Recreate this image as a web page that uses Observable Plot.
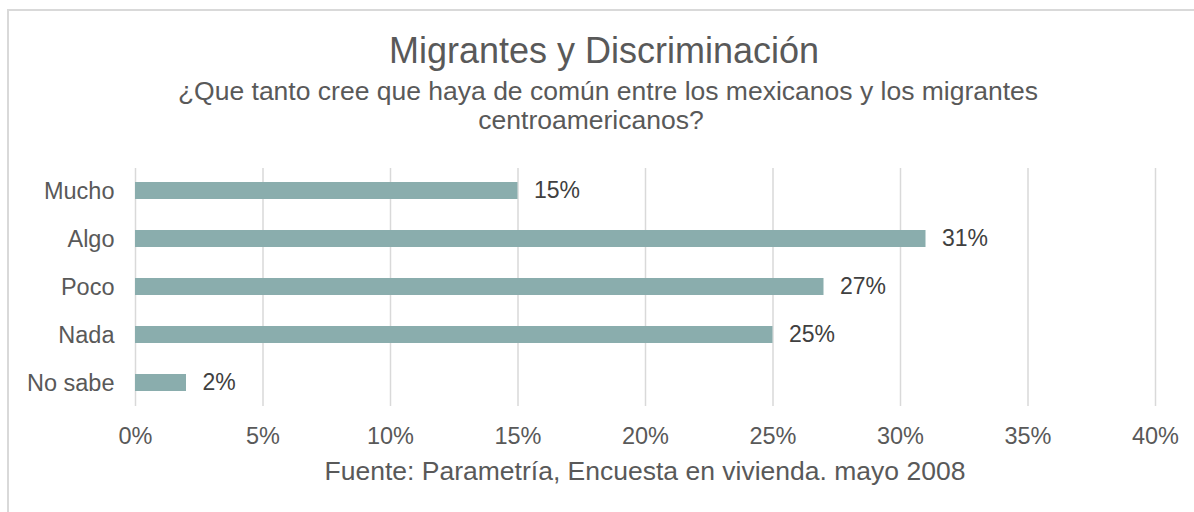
<!DOCTYPE html>
<html>
<head>
<meta charset="utf-8">
<script src="https://cdn.jsdelivr.net/npm/d3@7"></script>
<script src="https://cdn.jsdelivr.net/npm/@observablehq/plot@0.6"></script>
<style>
  html, body { margin: 0; padding: 0; background: #fff; overflow: hidden; }
  body { width: 1194px; height: 512px; position: relative; font-family: "Liberation Sans", Arial, sans-serif; color: #595959; }
  #frame { position: absolute; left: 7px; top: 9px; width: 1200px; height: 520px; border: 2px solid #d9d9d9; box-sizing: border-box; }
  #title { position: absolute; left: 0; top: 31px; width: 1208px; text-align: center; font-size: 36px; line-height: 40px; white-space: nowrap; }
  #subtitle { position: absolute; left: 0; top: 77px; width: 1216px; text-align: center; font-size: 26.5px; line-height: 29px; white-space: nowrap; }
  #subtitle .l2 { display: block; padding-right: 34px; }
  #chart { position: absolute; left: 0; top: 139px; }
  #caption { position: absolute; left: 135px; top: 456px; width: 1020px; text-align: center; font-size: 26.5px; line-height: 30px; white-space: nowrap; }
</style>
</head>
<body>
<div id="frame"></div>
<div id="title">Migrantes y Discriminación</div>
<div id="subtitle"><span class="l1">¿Que tanto cree que haya de común entre los mexicanos y los migrantes</span><span class="l2">centroamericanos?</span></div>
<div id="chart"></div>
<div id="caption">Fuente: Parametría, Encuesta en vivienda. mayo 2008</div>
<script>
const categories = ["Mucho", "Algo", "Poco", "Nada", "No sabe"];
const values = [15, 31, 27, 25, 2];
const xTicks = [0, 5, 10, 15, 20, 25, 30, 35, 40];

const data = categories.map((c, i) => ({category: c, value: values[i]}));
const fmt = d => d + "%";

const chart = Plot.plot({
  width: 1194,
  height: 330,
  marginLeft: 135,
  marginRight: 39,
  marginTop: 29,
  marginBottom: 63,
  style: {fontFamily: '"Liberation Sans", Arial, sans-serif', background: "transparent", overflow: "visible"},
  x: {domain: [0, 40]},
  y: {domain: categories, paddingInner: 0.643, paddingOuter: 0.3},
  marks: [
    Plot.gridX(xTicks, {stroke: "#d9d9d9", strokeOpacity: 1, strokeWidth: 1.5}),
    Plot.barX(data, {y: "category", x: "value", fill: "#8aadad"}),
    Plot.text(data, {y: "category", x: "value", text: d => fmt(d.value), textAnchor: "start", dx: 16, fontSize: 23, fill: "#404040"}),
    Plot.axisX({ticks: xTicks, tickFormat: fmt, tickSize: 0, tickPadding: 21, fontSize: 23.5, color: "#595959", label: null}),
    Plot.axisY({tickSize: 0, tickPadding: 21, fontSize: 23.5, color: "#595959", label: null})
  ]
});
document.getElementById("chart").appendChild(chart);
</script>
</body>
</html>
